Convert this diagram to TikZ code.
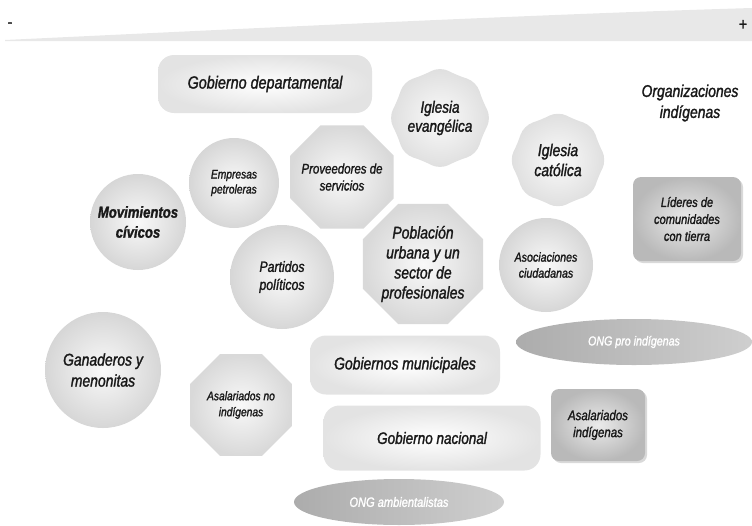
\documentclass[tikz,border=0pt]{standalone}
\usepackage{fontspec}
\setmainfont[FakeStretch=0.82,FakeBold=1.5]{Liberation Sans}
\usetikzlibrary{shapes.geometric,shadows}
\newcommand{\fsz}[2]{\fontsize{#1}{#2}\selectfont\itshape}
\tikzset{
  lbl/.style={align=center, text=black!90, inner sep=0pt},
  ball/.style={lbl, circle, shading=radial, inner color=gray!5, outer color=gray!32},
  oct/.style={lbl, regular polygon, regular polygon sides=8, inner sep=-12pt, shading=radial, inner color=gray!5, outer color=gray!30},
  burst/.style={lbl, star, star points=8, star point ratio=1.13, rounded corners=10pt, shading=radial, inner color=gray!4, outer color=gray!26},
  pill/.style={lbl, rectangle, rounded corners=16pt, shading=radial, inner color=white, outer color=gray!22},
  dbox/.style={lbl, rectangle, rounded corners=8pt, shading=radial, inner color=gray!16, outer color=gray!55, drop shadow={opacity=0.3, shadow xshift=2pt, shadow yshift=-2pt}},
  ong/.style={lbl, ellipse, left color=gray!65, right color=gray!38, text=white}
}
\begin{document}
\begin{tikzpicture}[x=1pt,y=-1pt]
\useasboundingbox (0,0) rectangle (752,525);
% top wedge
\fill[gray!18] (5,40) .. controls (300,26) and (550,14) .. (752,8) -- (752,41) -- (5,41) -- cycle;
\node[lbl, font=\fsz{17}{18}\upshape] (minus) at (10,25) {-};
\node[lbl, font=\fsz{17}{18}\upshape] (plus) at (743,25) {+};

\node[pill, minimum width=214, minimum height=58, font=\fsz{17.5}{20}] (gdep) at (265,84) {Gobierno departamental};
\node[burst, minimum size=94, font=\fsz{16.5}{19}] (ievan) at (440,118) {Iglesia\\evangélica};
\node[lbl, font=\fsz{17}{21}] (orgind) at (690,103) {Organizaciones\\indígenas};
\node[burst, minimum size=98, font=\fsz{17}{20}] (icat) at (558,160) {Iglesia\\católica};

\node[ball, minimum size=90, font=\fsz{12.5}{15}] (emp) at (234,183) {Empresas\\petroleras};
\node[oct, minimum size=112, font=\fsz{14}{17}] (prov) at (342,177) {Proveedores de\\servicios};
\node[ball, minimum size=96, font=\bfseries\fsz{16}{20}] (mov) at (138,222) {Movimientos\\cívicos};
\node[oct, minimum size=130, font=\fsz{17}{20}] (pob) at (423,264) {Población\\urbana y un\\sector de\\profesionales};
\node[ball, minimum size=94, font=\fsz{13}{16}] (asoc) at (546,265) {Asociaciones\\ciudadanas};
\node[dbox, minimum width=108, minimum height=84, font=\fsz{13.5}{17}] (lid) at (687,219) {Líderes de\\comunidades\\con tierra};
\node[ball, minimum size=104, font=\fsz{15}{18}] (part) at (282,277) {Partidos\\políticos};

\node[ball, minimum size=116, font=\fsz{17}{21}] (gan) at (103,370) {Ganaderos y\\menonitas};
\node[oct, minimum size=110, font=\fsz{12.5}{16}] (asalno) at (241,405) {Asalariados no\\indígenas};
\node[pill, minimum width=190, minimum height=59, font=\fsz{17}{20}] (gmun) at (405,365) {Gobiernos municipales};
\node[ong, minimum width=236, minimum height=46, font=\fsz{13}{15}] (ongpro) at (634,342) {ONG pro indígenas};
\node[dbox, minimum width=94, minimum height=72, font=\fsz{14}{17}] (asalind) at (598,425) {Asalariados\\indígenas};
\node[pill, minimum width=217, minimum height=65, font=\fsz{16.5}{20}] (gnac) at (432,438) {Gobierno nacional};
\node[ong, minimum width=210, minimum height=46, font=\fsz{13.5}{15}] (ongamb) at (399,502) {ONG ambientalistas};
\end{tikzpicture}
\end{document}
